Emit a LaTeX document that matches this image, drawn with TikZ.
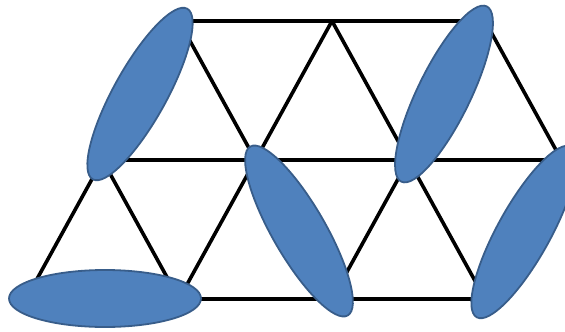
\documentclass[tikz,border=0pt]{standalone}
\usetikzlibrary{shapes.geometric}
\definecolor{dimerfill}{RGB}{79,129,189}
\definecolor{dimerline}{RGB}{56,93,138}
\begin{document}
\begin{tikzpicture}[x=1pt,y=-1pt,
  bond/.style={line width=3.6pt, line cap=round, line join=round, black},
  dimer/.style={ellipse, fill=dimerfill, draw=dimerline, line width=1.8pt,
    minimum width=195pt, minimum height=53pt, inner sep=0pt}]
\useasboundingbox (0,0) rectangle (565,332);
% lattice vertices
\coordinate (t1) at (179,21);
\coordinate (t2) at (332,21);
\coordinate (t3) at (485,21);
\coordinate (m1) at (102.5,160);
\coordinate (m2) at (255.5,160);
\coordinate (m3) at (408.5,160);
\coordinate (m4) at (561.5,160);
\coordinate (b1) at (26,299);
\coordinate (b2) at (179,299);
\coordinate (b3) at (332,299);
\coordinate (b4) at (485,299);
% bonds
\draw[bond] (t1) -- (t2) -- (t3);
\draw[bond] (m1) -- (m2) -- (m3) -- (m4);
\draw[bond] (b1) -- (b2) -- (b3) -- (b4);
\draw[bond] (t1) -- (m1) (t1) -- (m2) (t2) -- (m2) (t2) -- (m3) (t3) -- (m3) (t3) -- (m4);
\draw[bond] (m1) -- (b1) (m1) -- (b2) (m2) -- (b2) (m2) -- (b3) (m3) -- (b3) (m3) -- (b4) (m4) -- (b4);
% dimers
\node[dimer, rotate=61] (d1) at (140,94) {};
\node[dimer, rotate=64] (d2) at (444,94) {};
\node[dimer, rotate=-60] (d3) at (299,231) {};
\node[dimer, rotate=61] (d4) at (524,232) {};
\node[dimer, minimum width=192pt, minimum height=57pt] (d5) at (105,298.5) {};
\end{tikzpicture}
\end{document}
